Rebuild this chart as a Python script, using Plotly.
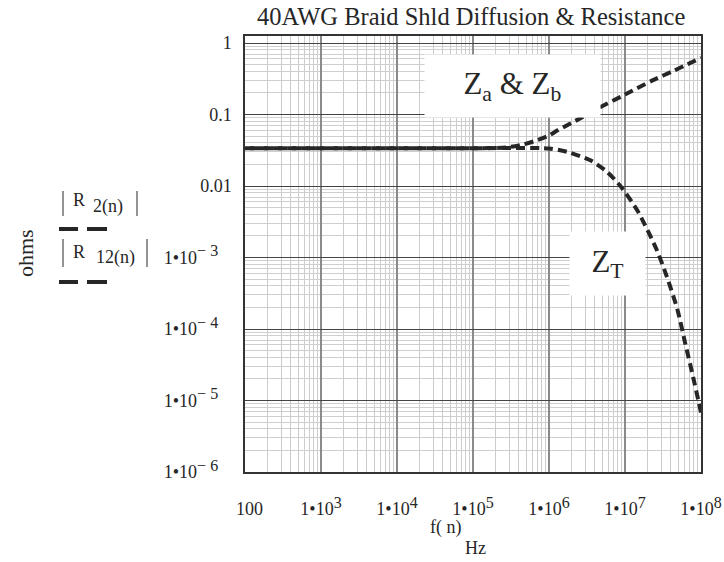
import plotly.graph_objects as go

# Frequency samples (Hz) and impedance magnitudes (ohms) for both curves
freq_r2 = [1e2, 1e3, 1e4, 1e5, 2.8e5, 4.5e5, 7e5, 1e6, 1.3e6, 2.6e6, 4.7e6,
           1e7, 2.3e7, 4.4e7, 1e8]
r2_ohms = [0.0337, 0.0337, 0.0337, 0.0337, 0.0347, 0.038, 0.0437, 0.051,
           0.060, 0.089, 0.126, 0.19, 0.30, 0.41, 0.62]

freq_r12 = [1e2, 1e3, 1e4, 1e5, 1e6, 1.75e6, 3.5e6, 5.8e6, 8.7e6, 1.48e7,
            2.63e7, 3.55e7, 4.9e7, 6.2e7, 7.9e7, 1e8]
r12_ohms = [0.0337, 0.0337, 0.0337, 0.0337, 0.0335, 0.030, 0.0229, 0.0158,
            0.0100, 0.0044, 0.00126, 0.00054, 0.000186, 6.3e-5, 2.1e-5, 6.8e-6]


def power_label(exp):
    return '1•10<sup><span style="font-size:16px">%s</span></sup>' % exp


# Axis ticks
x_tick_vals = [1e2, 1e3, 1e4, 1e5, 1e6, 1e7, 1e8]
x_tick_text = ["&nbsp;&nbsp;100", power_label("3"), power_label("4"), power_label("5"),
               power_label("6"), power_label("7"), power_label("8")]
y_tick_vals = [1, 0.1, 0.01, 1e-3, 1e-4, 1e-5, 1e-6]
pad = "&nbsp;&nbsp;&nbsp;"
y_tick_text = ["1", "0.1", "0.01",
               power_label("− 3") + pad, power_label("− 4") + pad,
               power_label("− 5") + pad, power_label("− 6") + pad]

x_minor = [d * 10 ** k for k in range(2, 8) for d in range(2, 10)]
y_minor = [d * 10.0 ** k for k in range(-6, 0) for d in range(2, 10)]

# Plot-area geometry in pixels (used to place labels around the frame)
W, H = 724, 562
L, R, T, B = 245, 701, 36, 472


def px(x):
    return (x - L) / (R - L)


def py(y):
    return (B - y) / (B - T)


INK = "#262626"
FONT = "Liberation Serif"

fig = go.Figure()
fig.add_trace(go.Scatter(
    x=freq_r2, y=r2_ohms, mode="lines", name="|R2(n)|",
    line=dict(color=INK, width=4, dash="9px,5px", shape="spline", smoothing=0.7),
    showlegend=False,
))
fig.add_trace(go.Scatter(
    x=freq_r12, y=r12_ohms, mode="lines", name="|R12(n)|",
    line=dict(color=INK, width=4, dash="0px,5px,9px,0px", shape="spline", smoothing=0.7),
    showlegend=False,
))

annotations = [
    dict(text="40AWG Braid Shld Diffusion & Resistance", x=px(471), y=py(17),
         font=dict(size=24.5)),
    dict(text="Z<sub>a</sub> & Z<sub>b</sub>", x=px(512.5), y=py(86),
         width=175, height=62, bgcolor="white", borderpad=0,
         font=dict(size=31)),
    dict(text="Z<sub>T</sub>", x=px(607.5), y=py(263.5),
         width=75, height=63, bgcolor="white", borderpad=0,
         font=dict(size=31)),
    dict(text="f( n)", x=px(445), y=py(527), font=dict(size=18)),
    dict(text="Hz", x=px(475), y=py(548), font=dict(size=18)),
    dict(text="ohms", x=px(26), y=py(253), textangle=-90, font=dict(size=22)),
    dict(text="R", x=px(79), y=py(200), font=dict(size=18)),
    dict(text="2(n)", x=px(108), y=py(206), font=dict(size=18)),
    dict(text="R", x=px(79), y=py(252), font=dict(size=18)),
    dict(text="12(n)", x=px(115), y=py(257), font=dict(size=18)),
]
for a in annotations:
    a.update(xref="paper", yref="paper", showarrow=False,
             xanchor="center", yanchor="middle")
    a["font"].update(family=FONT, color=INK)

shapes = []
# magnitude bars around the legend labels
for x0, y0, y1 in [(63, 191, 216), (137, 191, 216), (63, 239, 267), (147, 239, 267)]:
    shapes.append(dict(type="line", xref="paper", yref="paper",
                       x0=px(x0), x1=px(x0), y0=py(y0), y1=py(y1),
                       line=dict(color=INK, width=1)))
# dashed line samples under each legend label
for yy in (229, 282):
    for xa, xb in [(59, 78), (87, 107)]:
        shapes.append(dict(type="line", xref="paper", yref="paper",
                           x0=px(xa), x1=px(xb), y0=py(yy), y1=py(yy),
                           line=dict(color=INK, width=4)))

fig.update_layout(
    width=W, height=H,
    margin=dict(l=L, r=W - R, t=T, b=H - B, pad=0, autoexpand=False),
    paper_bgcolor="white", plot_bgcolor="white",
    font=dict(family=FONT, color=INK, size=18),
    annotations=annotations, shapes=shapes,
)
fig.update_xaxes(
    type="log", range=[2, 8], automargin=False,
    tickmode="array", tickvals=x_tick_vals, ticktext=x_tick_text,
    ticks="", ticklabelstandoff=20, tickfont=dict(size=18, family=FONT, color=INK),
    showgrid=True, gridcolor="#8a8a8a", gridwidth=1.5,
    minor=dict(tickmode="array", tickvals=x_minor, showgrid=True,
               gridcolor="#cccccc", gridwidth=1.2),
    showline=True, mirror=True, linecolor="#333333", linewidth=1.5,
    zeroline=False,
)
fig.update_yaxes(
    type="log", range=[-6, 0.098], automargin=False,
    tickmode="array", tickvals=y_tick_vals, ticktext=y_tick_text,
    ticks="", ticklabelstandoff=8, tickfont=dict(size=18, family=FONT, color=INK),
    showgrid=True, gridcolor="#444444", gridwidth=1,
    minor=dict(tickmode="array", tickvals=y_minor, showgrid=True,
               gridcolor="#cfcfcf", gridwidth=1),
    showline=True, mirror=True, linecolor="#333333", linewidth=1.5,
    zeroline=False,
)

fig.write_html("out.html")
